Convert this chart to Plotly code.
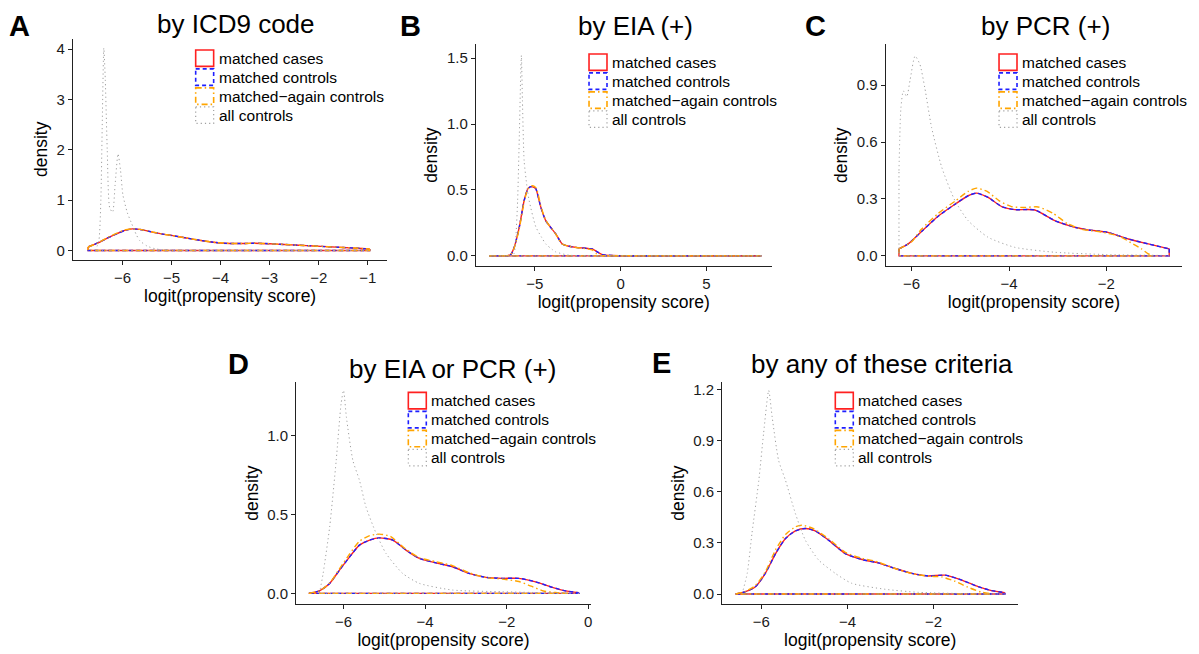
import plotly.graph_objects as go

W, H = 1199, 654
OFF = 8  # page body margin of the browser

# ---------------- data ----------------
# Panel A: by ICD9 code
a_cases_x = [-6.7, -6.5, -6.3, -6.1, -5.95, -5.8, -5.65, -5.5, -5.2, -5.0, -4.7, -4.4, -4.1, -3.8, -3.5, -3.3, -3.0, -2.7, -2.4, -2.1, -1.8, -1.5, -1.2, -0.96]
a_cases_y = [0.07, 0.15, 0.25, 0.34, 0.40, 0.43, 0.42, 0.39, 0.33, 0.30, 0.25, 0.20, 0.16, 0.14, 0.14, 0.145, 0.135, 0.12, 0.105, 0.09, 0.075, 0.06, 0.045, 0.03]
a_ctrl_x = [-6.7, -6.5, -6.3, -6.1, -5.95, -5.8, -5.65, -5.5, -5.2, -5.0, -4.7, -4.4, -4.1, -3.8, -3.5, -3.3, -3.0, -2.7, -2.4, -2.1, -1.8, -1.5, -1.2, -0.96]
a_ctrl_y = [0.07, 0.15, 0.25, 0.34, 0.40, 0.43, 0.42, 0.39, 0.33, 0.30, 0.25, 0.20, 0.16, 0.14, 0.14, 0.145, 0.135, 0.12, 0.105, 0.09, 0.075, 0.06, 0.045, 0.03]
a_again_x = [-6.7, -6.5, -6.3, -6.1, -5.95, -5.8, -5.65, -5.5, -5.2, -5.0, -4.7, -4.4, -4.1, -3.8, -3.5, -3.3, -3.0, -2.7, -2.4, -2.1, -1.8, -1.5, -1.2, -0.96]
a_again_y = [0.07, 0.15, 0.26, 0.35, 0.41, 0.43, 0.42, 0.39, 0.33, 0.30, 0.25, 0.20, 0.16, 0.14, 0.14, 0.145, 0.135, 0.12, 0.105, 0.09, 0.075, 0.06, 0.045, 0.03]
a_all_x = [-6.55, -6.48, -6.44, -6.41, -6.38, -6.35, -6.31, -6.26, -6.2, -6.15, -6.09, -6.04, -5.99, -5.9, -5.81, -5.72, -5.65, -5.5, -5.31, -5.0, -4.5, -4.0, -3.0, -2.0, -1.0]
a_all_y = [0.0, 0.2, 1.0, 2.6, 4.02, 3.4, 2.0, 0.85, 0.76, 1.3, 1.92, 1.6, 1.1, 0.75, 0.53, 0.32, 0.2, 0.09, 0.03, 0.01, 0.004, 0.002, 0.001, 0.0005, 0.0]

# Panel B: by EIA (+)
b_cases_x = [-7.66, -7.0, -6.6, -6.4, -6.2, -5.9, -5.62, -5.4, -5.23, -5.05, -4.94, -4.65, -4.36, -3.78, -3.4, -3.0, -2.6, -2.23, -1.9, -1.65, -1.36, -1.07, -0.5, 1.0, 3.0, 5.0, 8.2]
b_cases_y = [0.0, 0.0, 0.002, 0.01, 0.065, 0.22, 0.42, 0.51, 0.525, 0.52, 0.51, 0.37, 0.267, 0.167, 0.09, 0.073, 0.065, 0.06, 0.056, 0.053, 0.03, 0.01, 0.003, 0.001, 0.0005, 0.0002, 0.0]
b_ctrl_x = [-7.66, -7.0, -6.6, -6.4, -6.2, -5.9, -5.62, -5.4, -5.23, -5.05, -4.94, -4.65, -4.36, -3.78, -3.4, -3.0, -2.6, -2.23, -1.9, -1.65, -1.36, -1.07, -0.5, 1.0, 3.0, 5.0, 8.2]
b_ctrl_y = [0.0, 0.0, 0.002, 0.01, 0.065, 0.22, 0.42, 0.51, 0.525, 0.52, 0.51, 0.37, 0.267, 0.167, 0.09, 0.073, 0.065, 0.06, 0.056, 0.053, 0.03, 0.01, 0.003, 0.001, 0.0005, 0.0002, 0.0]
b_again_x = [-7.66, -7.0, -6.6, -6.4, -6.2, -5.9, -5.62, -5.4, -5.2, -5.05, -4.9, -4.65, -4.36, -3.78, -3.4, -3.0, -2.6, -2.23, -1.9, -1.65, -1.4, -1.2, -0.5, 1.0, 3.0, 5.0, 8.2]
b_again_y = [0.0, 0.0, 0.002, 0.01, 0.06, 0.21, 0.41, 0.51, 0.53, 0.53, 0.51, 0.38, 0.27, 0.165, 0.09, 0.073, 0.064, 0.058, 0.052, 0.045, 0.015, 0.003, 0.001, 0.0005, 0.0002, 0.0001, 0.0]
b_all_x = [-7.66, -6.6, -6.3, -6.2, -6.1, -6.0, -5.9, -5.81, -5.78, -5.72, -5.62, -5.45, -5.33, -4.94, -4.6, -4.36, -4.0, -3.78, -3.0, -2.0, 0.0, 4.0, 8.2]
b_all_y = [0.0, 0.0, 0.005, 0.02, 0.15, 0.42, 0.92, 1.43, 1.52, 1.18, 0.72, 0.52, 0.42, 0.22, 0.14, 0.09, 0.05, 0.03, 0.005, 0.002, 0.0005, 0.0, 0.0]

# Panel C: by PCR (+)
c_cases_x = [-6.26, -6.07, -5.79, -5.45, -5.11, -4.84, -4.67, -4.43, -4.15, -3.88, -3.47, -3.06, -2.65, -2.38, -1.97, -1.55, -1.14, -0.71]
c_cases_y = [0.037, 0.063, 0.13, 0.21, 0.272, 0.317, 0.331, 0.308, 0.26, 0.244, 0.242, 0.186, 0.151, 0.137, 0.124, 0.089, 0.063, 0.037]
c_ctrl_x = [-6.26, -6.07, -5.79, -5.45, -5.11, -4.84, -4.67, -4.43, -4.15, -3.88, -3.47, -3.06, -2.65, -2.38, -1.97, -1.55, -1.14, -0.71]
c_ctrl_y = [0.037, 0.063, 0.13, 0.21, 0.272, 0.317, 0.331, 0.308, 0.26, 0.244, 0.242, 0.186, 0.151, 0.137, 0.124, 0.089, 0.063, 0.037]
c_again_x = [-6.26, -6.0, -5.8, -5.45, -5.1, -4.84, -4.67, -4.45, -4.2, -3.95, -3.7, -3.4, -3.1, -2.8, -2.5, -2.2, -1.9, -1.69, -1.5, -1.28, -1.15, -1.05]
c_again_y = [0.037, 0.075, 0.14, 0.225, 0.29, 0.34, 0.357, 0.34, 0.29, 0.26, 0.255, 0.258, 0.225, 0.17, 0.14, 0.13, 0.115, 0.098, 0.07, 0.037, 0.012, 0.002]
c_all_x = [-6.26, -6.22, -6.17, -6.1, -6.03, -5.93, -5.83, -5.73, -5.59, -5.38, -5.11, -4.84, -4.43, -3.88, -3.06, -2.0, -0.72]
c_all_y = [0.45, 0.78, 0.87, 0.84, 0.93, 1.054, 1.01, 0.887, 0.677, 0.466, 0.291, 0.186, 0.098, 0.045, 0.019, 0.007, 0.002]

# Panel D: by EIA or PCR (+)
d_cases_x = [-6.85, -6.59, -6.34, -6.1, -5.85, -5.61, -5.36, -5.12, -4.79, -4.47, -4.14, -3.73, -3.33, -2.92, -2.51, -2.1, -1.7, -1.29, -0.88, -0.56, -0.23]
d_cases_y = [0.0, 0.016, 0.063, 0.147, 0.231, 0.305, 0.337, 0.351, 0.337, 0.274, 0.221, 0.193, 0.168, 0.126, 0.101, 0.095, 0.095, 0.073, 0.038, 0.016, 0.004]
d_ctrl_x = [-6.85, -6.59, -6.34, -6.1, -5.85, -5.61, -5.36, -5.12, -4.79, -4.47, -4.14, -3.73, -3.33, -2.92, -2.51, -2.1, -1.7, -1.29, -0.88, -0.56, -0.23]
d_ctrl_y = [0.0, 0.016, 0.063, 0.147, 0.231, 0.305, 0.337, 0.351, 0.337, 0.274, 0.221, 0.193, 0.168, 0.126, 0.101, 0.095, 0.095, 0.073, 0.038, 0.016, 0.004]
d_again_x = [-6.85, -6.59, -6.34, -6.1, -5.85, -5.61, -5.36, -5.12, -4.85, -4.5, -4.14, -3.73, -3.33, -2.92, -2.51, -2.1, -1.7, -1.4, -1.1, -0.8, -0.5]
d_again_y = [0.0, 0.016, 0.065, 0.155, 0.25, 0.33, 0.365, 0.375, 0.36, 0.285, 0.225, 0.2, 0.175, 0.13, 0.1, 0.09, 0.075, 0.045, 0.015, 0.005, 0.0]
d_all_x = [-6.59, -6.5, -6.34, -6.18, -6.06, -6.0, -5.93, -5.77, -5.61, -5.45, -5.2, -4.96, -4.55, -4.14, -3.33, -2.1, -0.88, -0.23]
d_all_y = [0.0, 0.126, 0.42, 0.84, 1.2, 1.285, 1.116, 0.84, 0.716, 0.547, 0.379, 0.253, 0.126, 0.063, 0.021, 0.01, 0.003, 0.0]

# Panel E: by any of these criteria
e_cases_x = [-6.6, -6.37, -6.14, -5.91, -5.67, -5.44, -5.21, -4.98, -4.75, -4.44, -4.05, -3.66, -3.28, -2.89, -2.5, -2.12, -1.73, -1.34, -0.96, -0.65, -0.34]
e_cases_y = [0.0, 0.014, 0.043, 0.121, 0.238, 0.326, 0.371, 0.385, 0.371, 0.317, 0.238, 0.203, 0.183, 0.15, 0.121, 0.106, 0.111, 0.082, 0.043, 0.02, 0.008]
e_ctrl_x = [-6.6, -6.37, -6.14, -5.91, -5.67, -5.44, -5.21, -4.98, -4.75, -4.44, -4.05, -3.66, -3.28, -2.89, -2.5, -2.12, -1.73, -1.34, -0.96, -0.65, -0.34]
e_ctrl_y = [0.0, 0.014, 0.043, 0.121, 0.238, 0.326, 0.371, 0.385, 0.371, 0.317, 0.238, 0.203, 0.183, 0.15, 0.121, 0.106, 0.111, 0.082, 0.043, 0.02, 0.008]
e_again_x = [-6.6, -6.37, -6.14, -5.91, -5.67, -5.44, -5.21, -5.05, -4.8, -4.44, -4.05, -3.66, -3.28, -2.89, -2.5, -2.12, -1.8, -1.5, -1.2, -0.9, -0.7]
e_again_y = [0.0, 0.016, 0.05, 0.13, 0.26, 0.35, 0.395, 0.405, 0.385, 0.325, 0.245, 0.21, 0.188, 0.15, 0.12, 0.105, 0.1, 0.075, 0.04, 0.012, 0.003]
e_all_x = [-6.45, -6.33, -6.22, -6.06, -5.95, -5.83, -5.75, -5.6, -5.44, -5.21, -4.98, -4.67, -4.28, -3.9, -3.12, -2.35, -1.19, -0.34]
e_all_y = [0.0, 0.121, 0.356, 0.668, 0.942, 1.196, 1.04, 0.785, 0.668, 0.473, 0.317, 0.2, 0.121, 0.063, 0.028, 0.01, 0.002, 0.0]

series_names = ["matched cases", "matched controls", "matched\u2212again controls", "all controls"]
panel_letters = ["A", "B", "C", "D", "E"]
panel_titles = ["by ICD9 code", "by EIA (+)", "by PCR (+)", "by EIA or PCR (+)", "by any of these criteria"]

x_ticks = [[-6, -5, -4, -3, -2, -1], [-5, 0, 5], [-6, -4, -2], [-6, -4, -2, 0], [-6, -4, -2]]
y_ticks = [[0, 1, 2, 3, 4], [0.0, 0.5, 1.0, 1.5], [0.0, 0.3, 0.6, 0.9], [0.0, 0.5, 1.0], [0.0, 0.3, 0.6, 0.9, 1.2]]

panel_data = [
    [(a_cases_x, a_cases_y), (a_ctrl_x, a_ctrl_y), (a_again_x, a_again_y), (a_all_x, a_all_y)],
    [(b_cases_x, b_cases_y), (b_ctrl_x, b_ctrl_y), (b_again_x, b_again_y), (b_all_x, b_all_y)],
    [(c_cases_x, c_cases_y), (c_ctrl_x, c_ctrl_y), (c_again_x, c_again_y), (c_all_x, c_all_y)],
    [(d_cases_x, d_cases_y), (d_ctrl_x, d_ctrl_y), (d_again_x, d_again_y), (d_all_x, d_all_y)],
    [(e_cases_x, e_cases_y), (e_ctrl_x, e_ctrl_y), (e_again_x, e_again_y), (e_all_x, e_all_y)],
]

# ---------------- layout geometry (page pixels) ----------------
FW, FH = W - OFF, H - OFF


def fx(p):
    return (p - OFF) / FW


def fy(p):
    return 1 - (p - OFF) / FH


# plot areas: (left, right, top, bottom) in page px
areas = [(73, 388, 38, 259), (476.7, 773, 43, 265.7), (887.3, 1184, 43.3, 265.7),
         (296.7, 591.7, 381.7, 604), (723.3, 1020, 381.7, 604)]
x_ranges = [(-7.01, -0.6), (-8.43, 8.8), (-6.53, -0.447), (-7.16, 0.06), (-6.914, -0.027)]
y_ranges = [(-0.18, 4.2), (-0.079, 1.608), (-0.055, 1.116), (-0.068, 1.337), (-0.059, 1.245)]
y_formats = ["d", ".1f", ".1f", ".1f", ".1f"]
title_pos = [(236, 23), (637, 25), (1047, 25), (453, 369), (883, 364)]
# top-left corner of the panel-letter text boxes
letter_pos = [(8, 8), (400, 8), (805, 8), (227, 347), (652, 346)]
legend_pos = [(196, 48), (590, 52), (1000.7, 52), (409, 391), (836.7, 391)]

colors = ["#FF2020", "#1F1FFF", "#FFA500", "#A0A0A0"]
dashes = ["solid", "4px,3px", "6px,3px,1.5px,3px", "1.2px,3px"]
widths = [1.4, 1.4, 1.4, 1.0]

FONT = "Liberation Sans, Arial, Helvetica, sans-serif"

fig = go.Figure()
layout = dict(
    width=FW, height=FH, margin=dict(l=0, r=0, t=0, b=0),
    paper_bgcolor="white", plot_bgcolor="white", showlegend=False,
    font=dict(family=FONT, color="black"),
)
annotations = []
shapes = []

for i in range(5):
    n = "" if i == 0 else str(i + 1)
    xa, ya = "x" + n, "y" + n
    left, right, top, bottom = areas[i]
    axis_common = dict(showline=True, linecolor="#222", linewidth=1.2, ticks="outside",
                       ticklen=4, tickwidth=1.1, tickcolor="#222", showgrid=False,
                       zeroline=False, tickfont=dict(size=15, color="#1a1a1a"),
                       fixedrange=True)
    layout["xaxis" + n] = dict(axis_common, domain=[fx(left), fx(right)], range=list(x_ranges[i]),
                              anchor=ya, tickvals=x_ticks[i],
                              title=dict(text="logit(propensity score)", font=dict(size=17.5), standoff=2))
    layout["yaxis" + n] = dict(axis_common, domain=[fy(bottom), fy(top)], range=list(y_ranges[i]),
                              anchor=xa, tickvals=y_ticks[i], tickformat=y_formats[i],
                              title=dict(text="density", font=dict(size=17.5), standoff=4))

    for k, (sx, sy) in enumerate(panel_data[i]):
        line = dict(color=colors[k], width=widths[k], dash=dashes[k])
        # density curve
        fig.add_trace(go.Scatter(x=sx, y=sy, mode="lines", line=dict(line, shape="spline", smoothing=0.6),
                                 name=series_names[k], xaxis=xa, yaxis=ya, hoverinfo="skip"))
        # closing outline along the baseline (as in geom_density)
        fig.add_trace(go.Scatter(x=[sx[-1], sx[-1], sx[0], sx[0]], y=[sy[-1], 0, 0, sy[0]],
                                 mode="lines", line=line, name=series_names[k],
                                 xaxis=xa, yaxis=ya, hoverinfo="skip"))

    # titles and panel letters
    tx, ty = title_pos[i]
    annotations.append(dict(text=panel_titles[i], x=fx(tx), y=fy(ty), xref="paper", yref="paper",
                            xanchor="center", yanchor="middle", showarrow=False,
                            font=dict(size=26, color="black")))
    lx, ly = letter_pos[i]
    annotations.append(dict(text="<b>" + panel_letters[i] + "</b>", x=fx(lx), y=fy(ly), xref="paper",
                            yref="paper", xanchor="left", yanchor="top", showarrow=False,
                            borderpad=0, font=dict(size=29, color="black")))

    # legend (ggplot-style box keys)
    gx, gy = legend_pos[i]
    row_h = 19
    for k in range(4):
        shapes.append(dict(type="rect", xref="paper", yref="paper",
                           x0=fx(gx), x1=fx(gx + 18), y0=fy(gy + k * row_h + 1), y1=fy(gy + k * row_h + 17.5),
                           line=dict(color=colors[k], width=1.6 if k < 3 else 1.2, dash=dashes[k]),
                           fillcolor="rgba(0,0,0,0)"))
        annotations.append(dict(text=series_names[k], x=fx(gx + 21), y=fy(gy + k * row_h + 9.5),
                                xref="paper", yref="paper", xanchor="left", yanchor="middle",
                                showarrow=False, font=dict(size=15.5, color="black")))

layout["annotations"] = annotations
layout["shapes"] = shapes
fig.update_layout(**layout)
fig.write_html("out.html")
